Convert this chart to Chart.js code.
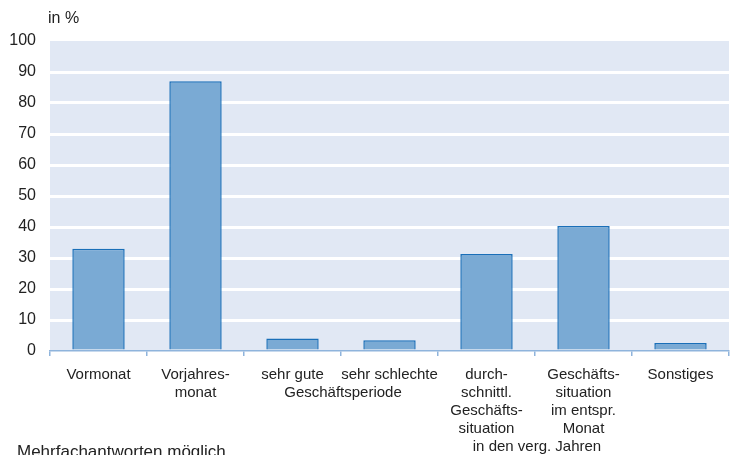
<!DOCTYPE html>
<html>
<head>
<meta charset="utf-8">
<script src="https://cdn.jsdelivr.net/npm/chart.js@4/dist/chart.umd.min.js"></script>
<style>
  html, body { margin: 0; padding: 0; background: #fff; }
  #wrap { width: 732px; height: 455px; position: relative; }
</style>
</head>
<body>
<div id="wrap"><canvas id="c"></canvas></div>
<script>
// ---- Data ------------------------------------------------------------------
const categories = [
    ['Vormonat'],
    ['Vorjahres-', 'monat'],
    ['sehr gute'],
    ['sehr schlechte'],
    ['durch-', 'schnittl.', 'Geschäfts-', 'situation'],
    ['Geschäfts-', 'situation', 'im entspr.', 'Monat'],
    ['Sonstiges']
];
const values = [33, 87, 4, 3.5, 31.3, 40.3, 2.6];
const yTicks = [0, 10, 20, 30, 40, 50, 60, 70, 80, 90, 100];

// Label lines shared by two neighbouring categories: [left index, line index, text]
const sharedLabels = [
    [2, 1, 'Geschäftsperiode'],
    [4, 4, 'in den verg. Jahren']
];

const FONT = '"Liberation Sans", Arial, sans-serif';
const PLOT_BG = '#e1e8f4';
const BAR_FILL = '#7aaad4';
const BAR_BORDER = '#1a6fb8';
const AXIS_BLUE = '#8fb4dc';
const LINE_H = 18;
const LABEL_PAD = 10;
const TICK_LEN = 5;

// Light blue plot background plus the extra text bits
const decor = {
    id: 'decor',
    beforeDraw(chart) {
        const a = chart.chartArea, c = chart.ctx;
        c.save();
        c.fillStyle = PLOT_BG;
        c.fillRect(a.left, a.top, a.right - a.left, a.bottom - a.top);
        c.restore();
    },
    afterDraw(chart) {
        const a = chart.chartArea, c = chart.ctx, x = chart.scales.x;
        c.save();
        c.fillStyle = '#222';
        c.font = '15px ' + FONT;
        c.textAlign = 'center';
        c.textBaseline = 'middle';
        sharedLabels.forEach(([i, line, text]) => {
            const cx = (x.getPixelForValue(i) + x.getPixelForValue(i + 1)) / 2 + 2;
            const cy = a.bottom + TICK_LEN + LABEL_PAD + LINE_H * (line + 0.5);
            c.fillText(text, cx, cy);
        });
        c.textAlign = 'left';
        c.textBaseline = 'alphabetic';
        c.font = '16px ' + FONT;
        c.fillText('in %', 48, 23);
        c.font = '17px ' + FONT;
        c.fillText('Mehrfachantworten möglich', 17, 457);
        c.restore();
    }
};

new Chart(document.getElementById('c'), {
    type: 'bar',
    data: {
        labels: categories,
        datasets: [{
            data: values,
            backgroundColor: BAR_FILL,
            borderColor: BAR_BORDER,
            borderWidth: { top: 1.5, left: 1.5, right: 1.5, bottom: 0 },
            borderSkipped: 'bottom',
            barPercentage: 0.54,
            categoryPercentage: 1
        }]
    },
    options: {
        responsive: true,
        maintainAspectRatio: false,
        animation: false,
        layout: { padding: { top: 41, right: 3, left: 0, bottom: 0 } },
        plugins: {
            legend: { display: false },
            tooltip: { enabled: false }
        },
        scales: {
            x: {
                offset: true,
                grid: {
                    offset: true,
                    drawOnChartArea: false,
                    drawTicks: true,
                    tickLength: TICK_LEN,
                    color: AXIS_BLUE,
                    lineWidth: 1.5
                },
                border: { display: true, color: AXIS_BLUE, width: 1.5 },
                ticks: {
                    color: '#222',
                    padding: LABEL_PAD,
                    maxRotation: 0,
                    autoSkip: false,
                    font: { family: FONT, size: 15, lineHeight: LINE_H + 'px' }
                },
                afterFit(s) { s.height = 104; }
            },
            y: {
                min: 0,
                max: 100,
                afterBuildTicks(s) { s.ticks = yTicks.map(v => ({ value: v })); },
                grid: {
                    color: ctx => (ctx.tick.value === 0 || ctx.tick.value === 100) ? 'rgba(0,0,0,0)' : '#ffffff',
                    lineWidth: 3,
                    drawTicks: false
                },
                border: { display: false },
                ticks: {
                    color: '#222',
                    padding: 14,
                    font: { family: FONT, size: 16 }
                },
                afterFit(s) { s.width = 50; }
            }
        }
    },
    plugins: [decor]
});
</script>
</body>
</html>
